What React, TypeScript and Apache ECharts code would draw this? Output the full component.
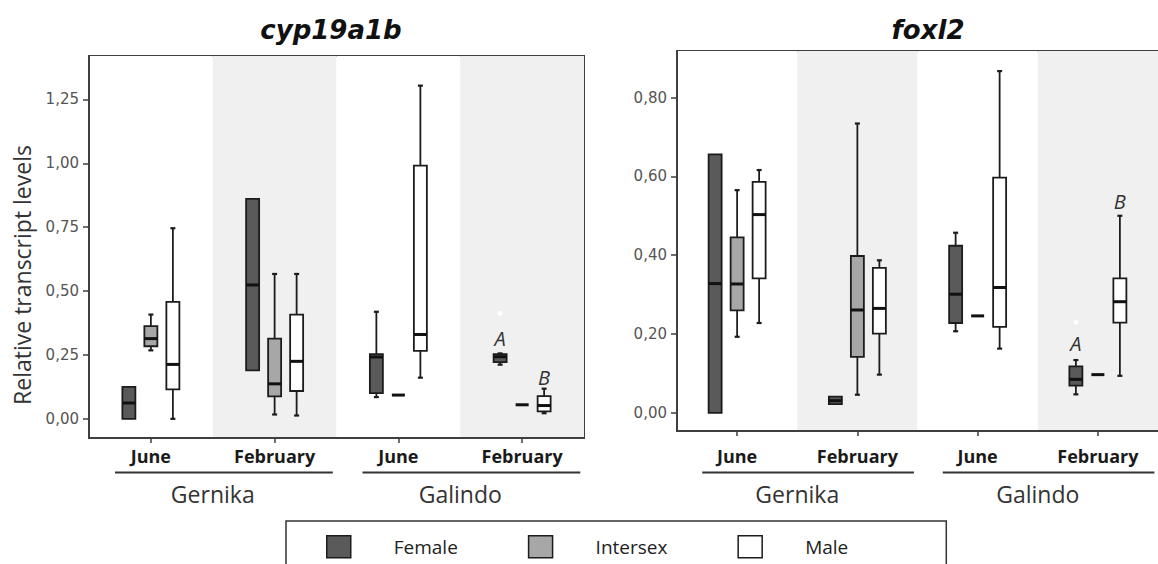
import React, { useEffect, useRef } from 'react';
import * as echarts from 'echarts';

const categories = ['Gernika · June', 'Gernika · February', 'Galindo · June', 'Galindo · February'];
const monthLabels = ['June', 'February', 'June', 'February'];
const siteLabels = ['Gernika', 'Galindo'];
const sexNames = ['Female', 'Intersex', 'Male'];
const sexFills = ['#5a5a5a', '#a7a7a7', '#ffffff'];

const cypTicks = [0, 0.25, 0.5, 0.75, 1.0, 1.25];
const foxTicks = [0, 0.2, 0.4, 0.6, 0.8];

// five-number summaries [min, q1, median, q3, max], one row per category
const cypFemale = [
  [0, 0, 0.062, 0.125, 0.125],
  [0.19, 0.19, 0.524, 0.861, 0.861],
  [0.085, 0.101, 0.242, 0.253, 0.419],
  [0.212, 0.222, 0.243, 0.253, 0.256],
];
const cypIntersex = [
  [0.268, 0.284, 0.314, 0.363, 0.408],
  [0.017, 0.088, 0.137, 0.314, 0.567],
  [0.093, 0.093, 0.093, 0.093, 0.093],
  [0.055, 0.055, 0.055, 0.055, 0.055],
];
const cypMale = [
  [0, 0.115, 0.213, 0.458, 0.746],
  [0.013, 0.109, 0.225, 0.408, 0.567],
  [0.161, 0.266, 0.33, 0.991, 1.304],
  [0.022, 0.029, 0.052, 0.089, 0.118],
];
const foxFemale = [
  [0, 0, 0.328, 0.656, 0.656],
  [0.022, 0.022, 0.031, 0.041, 0.041],
  [0.207, 0.228, 0.301, 0.424, 0.457],
  [0.047, 0.069, 0.085, 0.118, 0.134],
];
const foxIntersex = [
  [0.193, 0.26, 0.327, 0.445, 0.565],
  [0.046, 0.142, 0.261, 0.398, 0.734],
  [0.246, 0.246, 0.246, 0.246, 0.246],
  [0.097, 0.097, 0.097, 0.097, 0.097],
];
const foxMale = [
  [0.228, 0.341, 0.503, 0.586, 0.616],
  [0.097, 0.201, 0.265, 0.368, 0.387],
  [0.163, 0.218, 0.318, 0.597, 0.867],
  [0.094, 0.229, 0.282, 0.341, 0.5],
];

// outliers (Female): [categoryIndex, value]
const cypFemaleOutliers = [[3, 0.413]];
const foxFemaleOutliers = [[3, 0.23]];

// significance letters: [categoryIndex, value]
const cypFemaleLetterPos = [[3, 0.315]];
const cypFemaleLetters = ['A'];
const cypMaleLetterPos = [[3, 0.162]];
const cypMaleLetters = ['B'];
const foxFemaleLetterPos = [[3, 0.175]];
const foxFemaleLetters = ['A'];
const foxMaleLetterPos = [[3, 0.537]];
const foxMaleLetters = ['B'];

const SEX_OFFSET = [-22, 0, 22];
const BOX_W = 13;
const INK = '#1c1c1c';
const FRAME = '#3f3f3f';

function boxSeries(panel: number, sex: number, rows: number[][]) {
  return {
    type: 'custom',
    name: sexNames[sex],
    xAxisIndex: panel,
    yAxisIndex: panel,
    itemStyle: { color: sexFills[sex], borderColor: INK, borderWidth: 1.5 },
    encode: { x: 0, y: [1, 2, 3, 4, 5] },
    data: rows.map((r, i) => [i, ...r]),
    renderItem: (params: any, api: any) => {
      const cat = api.value(0);
      const mn = api.value(1), q1 = api.value(2), md = api.value(3), q3 = api.value(4), mx = api.value(5);
      const cx = api.coord([cat, md])[0] + SEX_OFFSET[sex];
      const y = (v: number) => api.coord([cat, v])[1];
      const hw = BOX_W / 2;
      const children: any[] = [];
      if (mx > q3) {
        children.push({ type: 'line', shape: { x1: cx, y1: y(mx), x2: cx, y2: y(q3) }, style: { stroke: INK, lineWidth: 1.8 } });
        children.push({ type: 'line', shape: { x1: cx - 2.5, y1: y(mx), x2: cx + 2.5, y2: y(mx) }, style: { stroke: INK, lineWidth: 2.2 } });
      }
      if (mn < q1) {
        children.push({ type: 'line', shape: { x1: cx, y1: y(q1), x2: cx, y2: y(mn) }, style: { stroke: INK, lineWidth: 1.8 } });
        children.push({ type: 'line', shape: { x1: cx - 2.5, y1: y(mn), x2: cx + 2.5, y2: y(mn) }, style: { stroke: INK, lineWidth: 2.2 } });
      }
      if (q3 > q1) {
        children.push({
          type: 'rect',
          shape: { x: cx - hw, y: y(q3), width: BOX_W, height: y(q1) - y(q3) },
          style: { fill: sexFills[sex], stroke: INK, lineWidth: 1.8 },
        });
      }
      children.push({ type: 'line', shape: { x1: cx - hw, y1: y(md), x2: cx + hw, y2: y(md) }, style: { stroke: '#111', lineWidth: 3 } });
      return { type: 'group', children };
    },
  };
}

function outlierSeries(panel: number, sex: number, pts: number[][]) {
  return {
    type: 'custom',
    name: sexNames[sex] + ' outliers',
    xAxisIndex: panel,
    yAxisIndex: panel,
    encode: { x: 0, y: 1 },
    data: pts,
    renderItem: (params: any, api: any) => {
      const p = api.coord([api.value(0), api.value(1)]);
      return { type: 'circle', shape: { cx: p[0] + SEX_OFFSET[sex], cy: p[1], r: 2.5 }, style: { fill: '#ffffff' } };
    },
  };
}

function letterSeries(panel: number, sex: number, pts: number[][], letters: string[]) {
  return {
    type: 'custom',
    name: sexNames[sex] + ' letters',
    xAxisIndex: panel,
    yAxisIndex: panel,
    encode: { x: 0, y: 1 },
    data: pts,
    renderItem: (params: any, api: any) => {
      const p = api.coord([api.value(0), api.value(1)]);
      return {
        type: 'text',
        style: {
          text: letters[params.dataIndex],
          x: p[0] + SEX_OFFSET[sex],
          y: p[1],
          align: 'center',
          verticalAlign: 'middle',
          fontFamily: 'Open Sans',
          fontStyle: 'italic',
          fontSize: 20,
          fill: '#333',
        },
      };
    },
  };
}

const fmt = (v: number) => v.toFixed(2).replace('.', ',');

function catAxis(panel: number, margin: number) {
  return {
    type: 'category',
    gridIndex: panel,
    data: categories,
    axisLine: { show: true, onZero: false, lineStyle: { color: FRAME, width: 2 } },
    axisTick: { show: true, alignWithLabel: true, length: 5, lineStyle: { color: FRAME, width: 1.5 } },
    axisLabel: {
      formatter: (v: string, i: number) => monthLabels[i],
      margin,
      fontFamily: 'Open Sans',
      fontWeight: 'bold',
      fontSize: 18,
      color: '#1a1a1a',
    },
    splitArea: { show: true, areaStyle: { color: ['#ffffff', '#f0f0f0'] } },
    splitLine: { show: false },
  };
}

function siteAxis(panel: number, margin: number) {
  return {
    type: 'category',
    gridIndex: panel,
    position: 'bottom',
    data: siteLabels,
    axisLine: { show: false, onZero: false },
    axisTick: { show: false },
    splitLine: { show: false },
    axisLabel: { margin, fontFamily: 'Open Sans', fontSize: 23, color: '#333' },
  };
}

function valAxis(panel: number, min: number, max: number, ticks: number[], extra: any) {
  return {
    type: 'value',
    gridIndex: panel,
    min,
    max,
    axisLine: { show: true, lineStyle: { color: FRAME, width: 2 } },
    axisTick: { show: true, length: 6, customValues: ticks, lineStyle: { color: FRAME, width: 1.5 } },
    axisLabel: { customValues: ticks, formatter: fmt, margin: 10, fontFamily: 'DejaVu Sans', fontSize: 15, color: '#555' },
    splitLine: { show: false },
    ...extra,
  };
}

export default function App() {
  const ref = useRef<HTMLDivElement>(null);
  useEffect(() => {
    if (!ref.current) return;
    const chart = echarts.init(ref.current, null, { renderer: 'svg' });
    const titleStyle = { fontFamily: 'DejaVu Sans', fontStyle: 'italic', fontWeight: 'bold', fontSize: 26, color: '#111' };
    const option: any = {
      animation: false,
      backgroundColor: '#ffffff',
      title: [
        { text: 'cyp19a1b', left: 331, top: 17, textAlign: 'center', padding: 0, textStyle: titleStyle },
        { text: 'foxl2', left: 928, top: 17, textAlign: 'center', padding: 0, textStyle: titleStyle },
      ],
      legend: {
        data: sexNames.map((n, i) => ({
          name: n,
          icon: 'rect',
          itemStyle: { color: sexFills[i], borderColor: INK, borderWidth: 1.5 },
        })),
        left: 286,
        top: 521,
        orient: 'horizontal',
        itemWidth: 24,
        itemHeight: 22,
        itemGap: 70,
        padding: [14, 98, 30, 40],
        borderColor: '#333',
        borderWidth: 1.5,
        selectedMode: false,
        textStyle: { fontFamily: 'Open Sans', fontSize: 19, color: '#222', padding: [0, 0, 0, 38] },
      },
      grid: [
        { left: 89, top: 56, width: 495, height: 382, show: true, borderColor: FRAME, borderWidth: 2 },
        { left: 677, top: 51, width: 496, height: 380, show: true, borderColor: FRAME, borderWidth: 2 },
      ],
      xAxis: [catAxis(0, 9), catAxis(1, 16), siteAxis(0, 44), siteAxis(1, 51)],
      yAxis: [
        valAxis(0, -0.075, 1.42, cypTicks, {
          name: 'Relative transcript levels',
          nameLocation: 'middle',
          nameGap: 56,
          nameRotate: 90,
          nameTextStyle: { fontFamily: 'Open Sans', fontSize: 23, color: '#333', padding: [0, 56, 0, 0] },
        }),
        valAxis(1, -0.046, 0.918, foxTicks, {}),
      ],
      series: [
        boxSeries(0, 0, cypFemale),
        boxSeries(0, 1, cypIntersex),
        boxSeries(0, 2, cypMale),
        boxSeries(1, 0, foxFemale),
        boxSeries(1, 1, foxIntersex),
        boxSeries(1, 2, foxMale),
        outlierSeries(0, 0, cypFemaleOutliers),
        outlierSeries(1, 0, foxFemaleOutliers),
        letterSeries(0, 0, cypFemaleLetterPos, cypFemaleLetters),
        letterSeries(0, 2, cypMaleLetterPos, cypMaleLetters),
        letterSeries(1, 0, foxFemaleLetterPos, foxFemaleLetters),
        letterSeries(1, 2, foxMaleLetterPos, foxMaleLetters),
      ],
    };
    chart.setOption(option);

    const underlines: any[] = [];
    [0, 1].forEach((p) => {
      const cs = categories.map((c) => chart.convertToPixel({ xAxisIndex: p }, c) as unknown as number);
      const bw = cs[1] - cs[0];
      [[0, 1], [2, 3]].forEach(([a, b]) => {
        underlines.push({
          type: 'line',
          shape: { x1: cs[a] - 0.29 * bw, y1: 472.5, x2: cs[b] + 0.47 * bw, y2: 472.5 },
          style: { stroke: '#333', lineWidth: 2 },
        });
      });
    });
    chart.setOption({ graphic: underlines });

    return () => chart.dispose();
  }, []);
  return <div ref={ref} style={{ position: 'absolute', left: 0, top: 0, width: 1158, height: 564 }} />;
}
